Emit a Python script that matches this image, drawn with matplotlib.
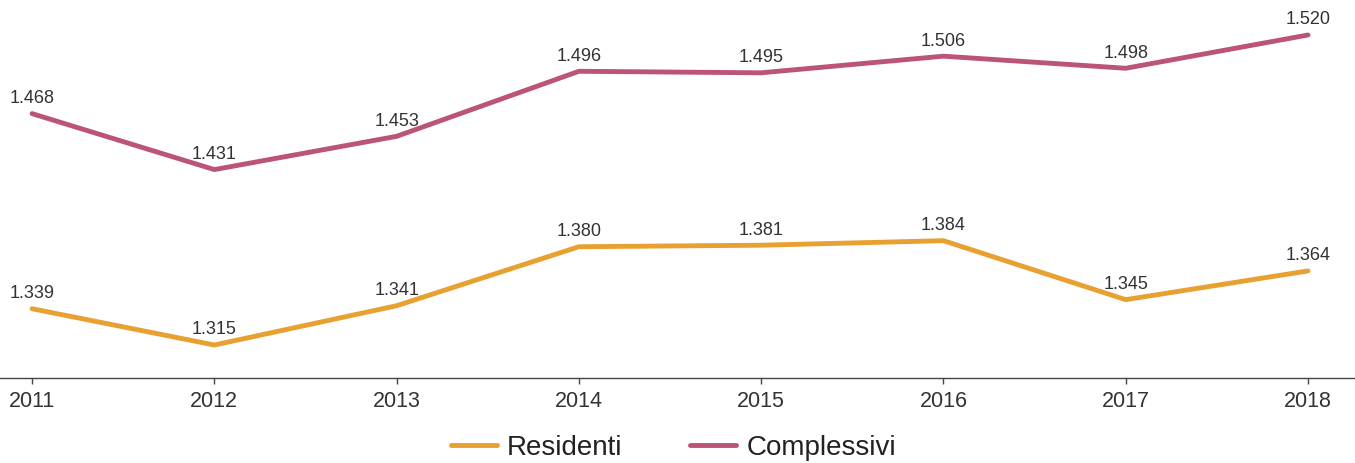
import matplotlib
matplotlib.use('Agg')
import matplotlib.pyplot as plt

# Datos
anni = [2011, 2012, 2013, 2014, 2015, 2016, 2017, 2018]
residenti = [1339, 1315, 1341, 1380, 1381, 1384, 1345, 1364]
complessivi = [1468, 1431, 1453, 1496, 1495, 1506, 1498, 1520]

col_res = '#E8A030'
col_com = '#BC5478'

plt.rcParams['font.family'] = ['Liberation Sans', 'DejaVu Sans']

fig = plt.figure(figsize=(13.55, 4.64), dpi=100)
ax = fig.add_axes([0, 0.1832, 1, 0.8168])

ax.plot(anni, residenti, color=col_res, lw=3.5, label='Residenti', solid_capstyle='round')
ax.plot(anni, complessivi, color=col_com, lw=3.5, label='Complessivi', solid_capstyle='round')

# Etichette dei valori (separatore delle migliaia con il punto)
for serie in (residenti, complessivi):
    for x, y in zip(anni, serie):
        ax.annotate(f"{y:,}".replace(',', '.'), (x, y), xytext=(0, 5.5),
                    textcoords='offset points', ha='center', va='bottom',
                    fontsize=13, color='#333333')

ax.set_xlim(2010.824, 2018.258)
ax.set_ylim(1293.2, 1543.8)
ax.set_xticks(anni)
ax.set_xticklabels([str(a) for a in anni])
ax.set_yticks([])

for s in ['top', 'right', 'left']:
    ax.spines[s].set_visible(False)
ax.spines['bottom'].set_color('#444444')
ax.spines['bottom'].set_linewidth(1)
ax.tick_params(axis='x', length=4.3, width=1, color='#444444', labelsize=15.5,
               labelcolor='#333333', pad=4.5)

fig.legend(loc='center', bbox_to_anchor=(0.497, 0.034), ncol=2, frameon=False,
           fontsize=20, handlelength=1.65, columnspacing=2.45, handletextpad=0.36,
           labelcolor='#222222')

fig.savefig('out.png', dpi=100)
